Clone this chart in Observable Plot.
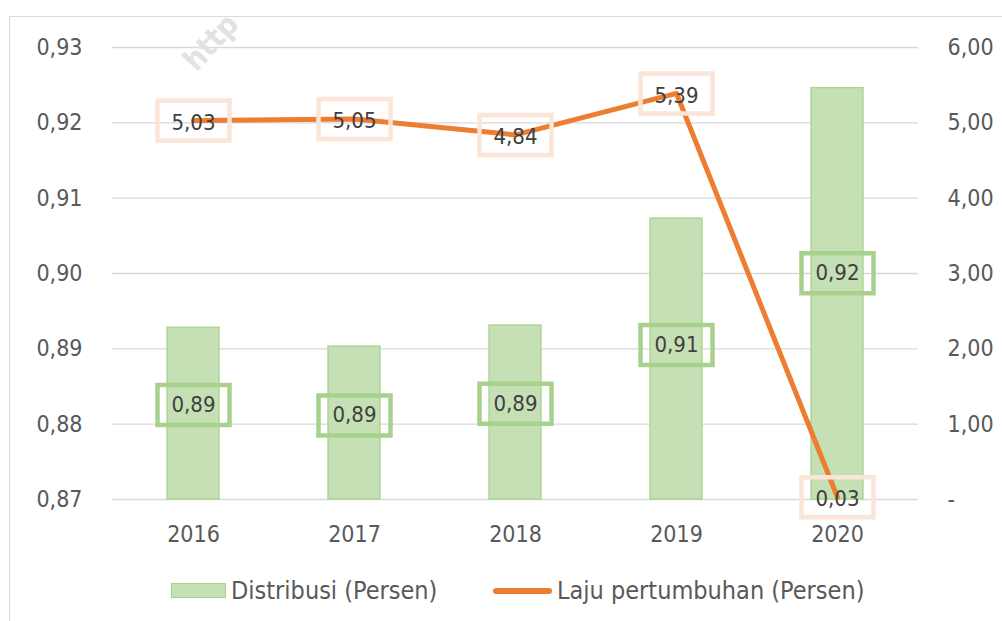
<!DOCTYPE html>
<html><head><meta charset="utf-8">
<script src="https://cdn.jsdelivr.net/npm/d3@7"></script>
<script src="https://cdn.jsdelivr.net/npm/@observablehq/plot@0.6"></script>
<style>
body{margin:0;background:#fff;font-family:"DejaVu Sans Condensed","DejaVu Sans",sans-serif;font-stretch:condensed;}
#wrap{position:relative;width:1002px;height:621px;overflow:hidden;background:#fff;}
#frame{position:absolute;left:9px;top:16px;width:1100px;height:800px;border:1.5px solid #d9d9d9;box-sizing:border-box;}
#chart{position:absolute;left:0;top:0;}
#wm{position:absolute;left:200px;top:46px;height:30px;line-height:30px;font-size:30px;font-weight:bold;color:#e2e2e2;transform:rotate(-47deg);transform-origin:left bottom;white-space:nowrap;font-family:"DejaVu Sans",sans-serif;}
.lg{position:absolute;color:#595959;font-size:25px;line-height:25px;white-space:nowrap;}
</style></head>
<body>
<div id="wrap">
  <div id="frame"></div>
  <div id="chart"></div>
  <div id="wm">http</div>
  <div id="legend"></div>
</div>
<script>
const years = ["2016","2017","2018","2019","2020"];
const distribusi = [0.8928, 0.8903, 0.8931, 0.9073, 0.9246];
const laju = [5.03, 5.05, 4.84, 5.39, 0.03];
const leftTicks = [0.87, 0.88, 0.89, 0.90, 0.91, 0.92, 0.93];
const rightTicks = [0, 1, 2, 3, 4, 5, 6];
const seriesNames = ["Distribusi (Persen)", "Laju pertumbuhan (Persen)"];

const data = years.map((y, i) => ({year: y, dist: distribusi[i], growth: laju[i]}));
const toLeft = v => 0.87 + v * 0.01; // right axis 0..6 mapped onto left 0.87..0.93
const fmt = v => v.toFixed(2).replace(".", ",");
const boxSym = {draw(ctx) { ctx.rect(-36, -20, 72, 40); }};
const barLabelY = d => 0.87 + (d.dist - 0.87) * 0.55;
const FONT = "'DejaVu Sans Condensed', 'DejaVu Sans', sans-serif";

const chart = Plot.plot({
  width: 1002, height: 560,
  marginTop: 47, marginBottom: 61, marginLeft: 112, marginRight: 84,
  x: {type: "band", domain: years, paddingInner: 0.68, paddingOuter: 0.34},
  y: {domain: [0.87, 0.93]},
  style: {fontFamily: FONT, fontStretch: "condensed", fontSize: "23px", color: "#595959", background: "transparent"},
  marks: [
    Plot.gridY(leftTicks, {stroke: "#d9d9d9", strokeOpacity: 1, strokeWidth: 1.3}),
    Plot.barY(data, {x: "year", y1: () => 0.87, y2: "dist", fill: "#c5e0b4", stroke: "#a9d18e", strokeWidth: 1.3}),
    Plot.line(data, {x: "year", y: d => toLeft(d.growth), stroke: "#ed7d31", strokeWidth: 5, strokeLinecap: "round", strokeLinejoin: "round"}),
    Plot.dot(data, {x: "year", y: barLabelY, symbol: boxSym, stroke: "#a9d18e", strokeWidth: 4.5, fill: "none"}),
    Plot.text(data, {x: "year", y: barLabelY, text: d => fmt(d.dist), fill: "#404040", fontSize: 22}),
    Plot.dot(data, {x: "year", y: d => toLeft(d.growth), symbol: boxSym, stroke: "#fbe5d6", strokeWidth: 4.5, fill: "none"}),
    Plot.text(data, {x: "year", y: d => toLeft(d.growth), text: d => fmt(d.growth), fill: "#404040", fontSize: 22, dy: 2}),
    Plot.axisX({tickSize: 0, tickPadding: 26, label: null}),
    Plot.axisY(leftTicks, {anchor: "left", tickSize: 0, tickPadding: 30, tickFormat: fmt, label: null}),
    Plot.axisY(rightTicks.map(toLeft), {anchor: "right", tickSize: 0, tickPadding: 29, label: null,
      tickFormat: d => { const v = Math.round((d - 0.87) * 100 * 1000) / 1000; return v === 0 ? "-" : fmt(v); }})
  ]
});
document.getElementById("chart").appendChild(chart);

// legend
const lg = document.getElementById("legend");
lg.innerHTML = `
  <div style="position:absolute;left:171px;top:583px;width:55px;height:15px;background:#c5e0b4;border:1.3px solid #a9d18e;box-sizing:border-box;"></div>
  <div class="lg" style="left:231px;top:578px;">${seriesNames[0]}</div>
  <div style="position:absolute;left:493px;top:588px;width:59px;height:6px;border-radius:3px;background:#ed7d31;"></div>
  <div class="lg" style="left:557px;top:578px;">${seriesNames[1]}</div>`;
</script>
</body></html>
